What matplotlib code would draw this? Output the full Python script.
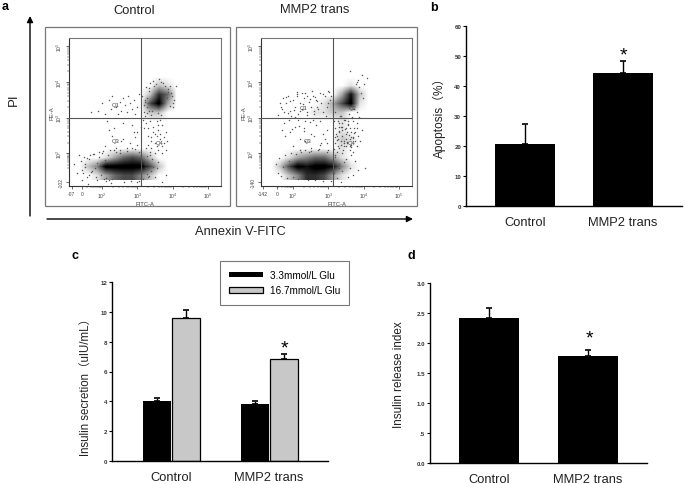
import matplotlib
matplotlib.use("Agg")
import numpy as np
import matplotlib.pyplot as plt
from matplotlib.patches import Rectangle

plt.rcParams['font.family'] = ['Liberation Sans', 'Noto Sans CJK SC', 'DejaVu Sans']
W, H = 686, 485
TXT = '#222222'

# ---------- data ----------
groups = ['Control', 'MMP2 trans']
apoptosis = [20.8, 44.5]
apoptosis_top = [27.3, 48.2]
glu_low = [4.0, 3.85]
glu_low_top = [4.2, 4.05]
glu_high = [9.6, 6.85]
glu_high_top = [10.15, 7.15]
release = [2.42, 1.78]
release_top = [2.58, 1.88]

# Dot density, one cell per quarter decade,
# top row = PE-A 10^4.5 side, left column = FITC-A 10^1.25 side
control_density = [
    "0000000000000",
    "0000000000000",
    "0000000002100",
    "0000000027500",
    "0000000069300",
    "0000000022000",
    "0000000000000",
    "0000000000000",
    "0000000000000",
    "0000000000000",
    "0001356520000",
    "0249999962000",
    "0013566420000",
]
mmp2_density = [
    "0000000000000",
    "0000000000000",
    "0000000001000",
    "0000000038200",
    "0000001369100",
    "0000011220000",
    "0000000010000",
    "0000000010000",
    "0000000021000",
    "0000000010000",
    "0013455310000",
    "0269899841000",
    "0024776310000",
]
# Dots read by eye (FITC-A decade, PE-A decade)
control_x = [1.9,2.0,2.1,2.2,2.25,2.3,2.4,2.45,2.5,2.55,2.6,2.65,2.7,2.75,2.8,2.85,2.9,2.95,3.0,3.05,
             1.7,2.15,2.35,2.6,2.85,3.0,3.15,3.2,3.25,3.3,3.35,3.4,3.45,3.5,3.55,3.6,3.65,3.7,3.75,3.8,
             3.25,3.35,3.4,3.5,3.55,3.6,3.65,3.7,3.75,3.3,3.45,3.6,3.8,3.5,3.7,3.85,3.3,3.55,3.4,3.65,
             2.1,2.3,2.5,2.6,2.8,2.9,3.0,2.4,2.7,2.95,3.1,2.2,2.55,2.85,3.05,
             1.2,1.3,1.35,1.45,1.5,1.6,3.4,3.5,3.6,3.7,3.45,3.55,3.8,4.0,3.95,4.05,4.1,3.0,3.1,
             1.42,1.48,1.53,1.58,1.63,1.67,1.72,1.77,1.82,1.87,1.92,1.97,2.03,2.08,2.13,2.18,2.23,2.28,
             1.44,1.51,1.57,1.64,1.69,1.74,1.81,1.86,1.93,1.99,2.06,2.12,2.19,2.26,2.33,2.41,2.52,2.63,
             2.72,2.83,2.94,3.04,3.16,3.22,3.27,3.33,3.38,3.42,3.17,3.24,3.29,3.36,3.21,3.31,3.44,3.12,
             3.19,3.28,3.34,3.41,3.47,3.52,3.18,3.23,3.32,3.39,3.13,3.26,3.37,3.84,3.88,3.92,3.98,4.02,3.86,3.93,
             3.22,3.28,3.34,3.21,3.27,3.31,3.72,3.78,3.46,3.54,3.62,3.68,3.58,3.66]
control_y = [3.2,3.4,3.1,3.5,3.25,3.6,3.3,3.1,3.45,3.2,3.55,3.35,3.15,3.6,3.4,3.25,3.5,3.1,3.3,3.65,
             3.15,2.9,2.7,2.4,2.8,2.6,2.95,2.7,2.85,2.5,2.9,2.35,2.75,2.55,2.2,2.65,2.4,2.8,2.3,2.6,
             2.15,2.05,2.45,2.3,2.9,2.1,2.55,2.2,2.45,2.25,2.6,2.8,2.1,2.0,2.0,2.35,2.7,2.5,2.15,2.95,
             2.2,2.5,2.1,2.85,2.3,2.6,2.25,2.05,2.15,2.45,2.75,2.65,2.35,2.15,2.05,
             1.7,1.45,1.95,1.25,1.9,1.15,1.5,1.35,1.75,1.2,1.1,1.6,1.4,3.3,3.7,3.5,3.9,1.2,1.3,
             1.78,1.45,1.62,1.88,1.39,1.95,1.52,1.98,1.33,1.72,2.04,1.41,2.08,1.83,1.31,1.96,2.11,1.28,
             1.55,1.7,1.35,1.84,1.47,1.99,1.6,1.26,1.9,2.02,1.29,1.22,1.25,1.18,2.1,2.15,2.02,1.2,
             2.08,1.22,2.12,1.24,1.5,1.75,1.92,1.38,1.66,1.84,1.28,1.58,1.42,1.97,1.7,1.35,1.62,1.3,
             3.35,3.55,3.75,3.2,3.9,3.65,3.15,3.45,3.82,3.08,3.6,3.85,3.98,3.55,3.8,3.32,3.62,3.42,3.72,3.9,
             3.05,3.12,3.2,3.5,3.3,3.42,3.98,3.9,4.02,3.95,4.08,4.0,3.12,3.08]
mmp2_x = [1.65,1.7,1.75,1.8,1.85,1.9,1.95,2.0,2.05,2.1,2.15,2.2,2.25,2.3,2.35,2.4,2.45,2.5,2.55,2.6,
          2.65,2.7,2.75,2.8,2.85,2.9,2.95,3.0,3.05,1.75,1.9,2.05,2.2,2.35,2.5,2.65,2.8,2.95,
          3.15,3.2,3.25,3.3,3.35,3.4,3.45,3.5,3.55,3.6,3.65,3.7,3.75,3.8,3.85,3.2,3.3,3.4,3.5,3.6,3.7,3.8,
          3.25,3.35,3.45,3.55,3.65,3.75,3.2,3.4,3.6,3.8,3.3,3.5,3.7,3.9,3.95,
          2.0,2.2,2.35,2.5,2.6,2.75,2.9,3.0,2.15,2.45,2.7,2.95,2.3,2.55,2.85,
          3.2,3.3,3.4,3.5,3.6,3.7,3.25,3.45,3.65,3.35,3.55,3.75,3.85,3.15,3.3,4.0,4.1,3.8,3.95,3.6,4.05,
          1.52,1.56,1.61,1.66,1.71,1.76,1.83,1.88,1.94,2.01,2.07,2.14,2.21,2.27,2.34,2.42,2.51,2.62,
          2.73,2.84,2.96,3.06,1.58,1.64,1.69,1.79,1.86,1.92,2.03,2.11,2.19,2.29,2.38,2.48,2.58,2.68,
          3.18,3.22,3.28,3.33,3.38,3.43,3.48,3.53,3.58,3.63,3.68,3.73,3.19,3.26,3.31,3.36,3.42,3.47,
          3.52,3.57,3.62,3.67,3.72,3.16,3.24,3.29,3.39,3.44,3.49,3.54,3.59,3.64,3.69,3.27,3.37,
          1.68,1.78,1.87,1.96,2.04,2.12,2.18,2.24,2.32,2.39,2.47,2.53,2.61,2.69,2.77,2.86,2.92,2.98,3.02,3.08,
          3.78,3.83,3.88,3.92,3.97,3.74,3.81,3.86]
mmp2_y = [3.3,3.55,3.15,3.4,3.6,3.2,3.05,3.5,3.3,3.65,3.1,3.4,3.25,3.55,3.7,3.15,3.45,3.3,3.6,3.1,
          3.5,3.25,3.7,3.4,3.15,3.6,3.3,3.75,3.5,2.85,2.6,2.75,2.4,2.9,2.55,2.8,2.3,2.65,
          2.9,2.7,2.5,2.85,2.25,2.65,2.95,2.4,2.8,2.2,2.6,2.9,2.35,2.7,2.5,2.3,2.15,2.0,2.55,2.1,2.45,2.2,
          2.05,2.75,2.35,2.9,2.25,2.6,2.45,2.85,2.7,2.85,2.6,2.2,2.05,2.35,2.65,
          2.2,2.1,2.35,2.15,2.5,2.25,2.4,2.1,2.95,2.05,2.1,2.3,2.7,2.95,2.55,
          1.9,1.7,1.5,1.85,1.6,1.4,1.3,1.75,1.95,1.2,1.35,1.8,1.55,1.45,1.6,3.95,4.1,4.0,4.2,4.3,1.6,
          1.7,1.45,1.88,1.38,1.62,1.95,1.32,1.78,2.02,1.35,1.98,1.28,2.05,1.3,2.1,1.27,2.08,1.25,
          2.12,1.24,2.05,1.22,3.08,3.42,3.25,3.58,3.12,3.48,3.22,3.62,3.18,3.38,3.08,3.52,3.2,3.3,
          3.15,2.55,2.4,3.05,2.75,2.3,2.95,2.6,3.1,2.45,3.0,2.7,1.95,2.2,2.75,2.35,2.1,2.68,
          2.28,2.82,2.4,3.02,2.58,2.12,2.38,2.62,2.48,2.22,2.72,2.32,2.52,2.18,2.42,2.92,3.05,
          2.65,2.48,2.95,2.68,3.02,3.72,2.78,3.68,2.62,3.62,2.88,3.74,3.58,3.48,2.92,3.65,3.05,3.42,3.72,3.62,
          3.95,4.05,3.85,3.7,3.55,3.25,3.15,3.02]

x_decades = [2, 3, 4, 5]
y_decades = [2, 3, 4, 5]

# ---------- helpers ----------
fig = plt.figure(figsize=(W / 100, H / 100), dpi=100, facecolor='white')

def box(l, t, r, b, **kw):
    return fig.add_axes([l / W, 1 - b / H, (r - l) / W, (b - t) / H], **kw)

def ftext(x, y, s, **kw):
    kw.setdefault('ha', 'center'); kw.setdefault('va', 'center'); kw.setdefault('color', TXT)
    fig.text(x / W, 1 - y / H, s, **kw)

def flow(rect, outer, xlim, ylim, cross, density, px, py, low_x, low_y, q_pos):
    fig.add_artist(Rectangle((outer[0] / W, 1 - outer[3] / H), (outer[2] - outer[0]) / W,
                             (outer[3] - outer[1]) / H, transform=fig.transFigure,
                             fc='white', ec='#777777', lw=0.9, zorder=-1))
    ax = box(*rect)
    ax.imshow(np.array([[int(c) for c in r] for r in density], float), cmap='gray_r', vmin=0, vmax=8.5,
              extent=[1.25, 4.5, 1.25, 4.5], interpolation='bilinear', aspect='auto', zorder=1)
    ax.scatter(px, py, s=1.1, c='#555555', linewidths=0, zorder=2)
    ax.set_xlim(*xlim); ax.set_ylim(*ylim)
    ax.axvline(cross, color='#555555', lw=0.8, zorder=3)
    ax.axhline(3, color='#555555', lw=0.8, zorder=3)
    for s in ax.spines.values():
        s.set_color('#777777'); s.set_linewidth(0.8)
    ax.spines['left'].set_color('#333333'); ax.spines['bottom'].set_color('#333333')
    ax.set_xticks(x_decades + [low_x[0], low_x[1]])
    ax.set_yticks(y_decades + [low_y[0]])
    ax.set_xticklabels([f'$\\mathregular{{10^{d}}}$' for d in x_decades] + [low_x[2], low_x[3]], fontsize=3.6, color='#444444')
    ax.set_yticklabels([f'$\\mathregular{{10^{d}}}$' for d in y_decades] + [low_y[2]], fontsize=3.6, color='#444444', rotation=90, va='center')
    ax.tick_params(length=2.2, width=0.5, pad=1.2, color='#333333')
    decs = np.arange(2, 5)
    minor = np.log10(np.arange(2, 10))
    ax.set_xticks(np.concatenate([d + minor for d in decs] + [1.4 + minor * 0.6]), minor=True)
    ax.set_yticks(np.concatenate([d + minor for d in np.arange(2, 5)] + [1.4 + minor * 0.6]), minor=True)
    ax.tick_params(which='minor', length=1.4, width=0.35, color='#333333')
    for name, (qx, qy) in q_pos.items():
        ax.text(qx, qy, name, fontsize=4.2, color='#444444', ha='center', va='center', zorder=4)
    ax.set_xlabel('FITC-A', fontsize=4.2, color='#444444', labelpad=0.5)
    ax.set_ylabel('PE-A', fontsize=4.2, color='#444444', labelpad=0.5)
    return ax

def bar_axes(rect, ymax, ticks, labels):
    ax = box(*rect)
    ax.set_ylim(0, ymax)
    ax.set_xlim(-0.602, 1.602)
    ax.spines[['top', 'right']].set_visible(False)
    ax.spines['left'].set_linewidth(1.0); ax.spines['bottom'].set_linewidth(1.0)
    ax.set_yticks(ticks); ax.set_yticklabels(labels, fontsize=4.4, fontweight='bold', color='#333333')
    ax.tick_params(axis='y', length=2, width=0.8, pad=1.5)
    ax.set_xticks([0, 1]); ax.set_xticklabels(groups, fontsize=9.3, color=TXT)
    ax.tick_params(axis='x', length=0, pad=7)
    ax.patch.set_alpha(0)
    return ax

def errs(ax, x, v, top):
    ax.errorbar(x, v, yerr=[np.zeros(len(v)), np.array(top) - np.array(v)], fmt='none', ecolor='black',
                elinewidth=1.0, capsize=2, capthick=1.2, zorder=1)

# ---------- panel a ----------
flow((69, 39, 221, 187), (45, 28, 230, 207), (1.07, 5.37), (1.09, 5.23), 3.1,
     control_density, control_x, control_y, (1.15, 1.45, '-07', '0'), (1.2, 1.21, '-102', ''),
     {'Q1': (2.38, 3.36), 'Q3': (2.38, 2.36), 'Q4': (3.62, 2.3)})
flow((261, 39, 412, 187), (236, 28, 417, 207), (1.09, 5.37), (1.09, 5.23), 3.13,
     mmp2_density, mmp2_x, mmp2_y, (1.15, 1.55, '-142', '0'), (1.2, 1.21, '-140', ''),
     {'Q1': (2.3, 3.28), 'Q2': (3.7, 3.28), 'Q3': (2.4, 2.36), 'Q4': (3.65, 2.3)})

ftext(134, 11, 'Control', fontsize=9.3)
ftext(315, 10, 'MMP2 trans', fontsize=9.3)
ftext(14, 100, 'PI', fontsize=9.5, rotation=90)
ftext(240, 232, 'Annexin V-FITC', fontsize=9.3)
over = fig.add_axes([0, 0, 1, 1], zorder=5)
over.axis('off'); over.set_xlim(0, W); over.set_ylim(H, 0)
over.annotate('', xy=(30, 17), xytext=(30, 217), arrowprops=dict(arrowstyle='-|>', lw=1.0, color='black', mutation_scale=9, shrinkA=0, shrinkB=0))
over.annotate('', xy=(413, 220), xytext=(47, 220), arrowprops=dict(arrowstyle='-|>', lw=1.0, color='black', mutation_scale=9, shrinkA=0, shrinkB=0))

# ---------- panel b ----------
axb = bar_axes((466, 27, 682, 207), 60, range(0, 61, 10), [str(v) for v in range(0, 61, 10)])
axb.bar([0, 1], apoptosis, width=0.61, color='black', zorder=2)
errs(axb, [0, 1], apoptosis, apoptosis_top)
axb.text(1, 50.2, '*', fontsize=14, ha='center', va='center', color='black')
ftext(439, 115, 'Apoptosis（%）', fontsize=8.6, rotation=90)

# ---------- panel c ----------
axc = bar_axes((112, 283, 328, 462), 12, range(0, 13, 2), [str(v) for v in range(0, 13, 2)])
bw = 0.282
axc.bar([-bw / 2 - .005, 1 - bw / 2 - .005], glu_low, width=bw, color='black', zorder=2, label='3.3mmol/L Glu')
axc.bar([bw / 2 + .012, 1 + bw / 2 + .012], glu_high, width=bw, color='#c8c8c8', edgecolor='black', lw=0.9, zorder=2, label='16.7mmol/L Glu')
errs(axc, [-bw / 2 - .005, 1 - bw / 2 - .005], glu_low, glu_low_top)
errs(axc, [bw / 2 + .012, 1 + bw / 2 + .012], glu_high, glu_high_top)
axc.text(1 + bw / 2 + .02, 7.55, '*', fontsize=14, ha='center', va='center', color='black')
ftext(86, 384, 'Insulin secretion（uIU/mL）', fontsize=8.3, rotation=90)
h, l = axc.get_legend_handles_labels()
leg = fig.legend(h, l, loc='upper left', bbox_to_anchor=(220 / W, 1 - 262 / H), bbox_transform=fig.transFigure,
                 frameon=True, fancybox=False, edgecolor='#777777', framealpha=1, fontsize=7.2,
                 handlelength=3.4, handleheight=0.5, labelspacing=0.55, borderpad=0.9, borderaxespad=0, handletextpad=0.7)
leg.get_frame().set_linewidth(0.8)

# ---------- panel d ----------
axd = bar_axes((430, 284, 647, 464), 3, [0, .5, 1, 1.5, 2, 2.5, 3], ['0.0', '.5', '1.0', '1.5', '2.0', '2.5', '3.0'])
axd.bar([0, 1], release, width=0.61, color='black', zorder=2)
errs(axd, [0, 1], release, release_top)
axd.text(1.02, 2.09, '*', fontsize=14, ha='center', va='center', color='black')
ftext(399, 375, 'Insulin release index', fontsize=8.4, rotation=90)

# ---------- panel letters ----------
for x, y, s in [(5, 7, 'a'), (434, 8, 'b'), (75, 256, 'c'), (411, 256, 'd')]:
    ftext(x, y, s, fontsize=9, fontweight='bold', color='black')

fig.savefig('out.png', dpi=100)
